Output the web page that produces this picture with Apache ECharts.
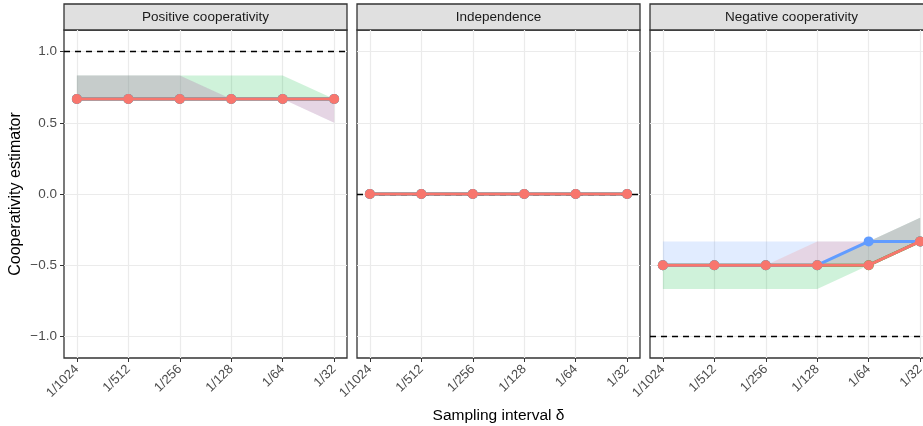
<!DOCTYPE html>
<html><head><meta charset="utf-8">
<script src="https://cdn.jsdelivr.net/npm/echarts@6/dist/echarts.min.js"></script>
<style>html,body{margin:0;padding:0;background:#fff}#c{width:923px;height:426px}</style>
</head><body><div id="c"></div>
<script>
// ---------------- data ----------------
const panels = ['Positive cooperativity', 'Independence', 'Negative cooperativity'];
const xLabels = ['1/1024', '1/512', '1/256', '1/128', '1/64', '1/32'];
const xIdx = [0, 1, 2, 3, 4, 5];
const yTicks = [-1, -0.5, 0, 0.5, 1];
const trueValues = [1, 0, -1];
const groupColors = ['#F8766D', '#00BA38', '#619CFF']; // A, B, C

// Positive cooperativity
const posA   = [0.667, 0.667, 0.667, 0.667, 0.667, 0.667];
const posALo = [0.667, 0.667, 0.667, 0.667, 0.667, 0.5];
const posAHi = [0.833, 0.833, 0.833, 0.667, 0.667, 0.667];
const posB   = [0.667, 0.667, 0.667, 0.667, 0.667, 0.667];
const posBLo = [0.667, 0.667, 0.667, 0.667, 0.667, 0.667];
const posBHi = [0.833, 0.833, 0.833, 0.833, 0.833, 0.667];
const posC   = [0.667, 0.667, 0.667, 0.667, 0.667, 0.667];
const posCLo = [0.667, 0.667, 0.667, 0.667, 0.667, 0.5];
const posCHi = [0.833, 0.833, 0.833, 0.667, 0.667, 0.667];

// Independence
const indA   = [0, 0, 0, 0, 0, 0];
const indALo = [0, 0, 0, 0, 0, 0];
const indAHi = [0, 0, 0, 0, 0, 0];
const indB   = [0, 0, 0, 0, 0, 0];
const indBLo = [0, 0, 0, 0, 0, 0];
const indBHi = [0, 0, 0, 0, 0, 0];
const indC   = [0, 0, 0, 0, 0, 0];
const indCLo = [0, 0, 0, 0, 0, 0];
const indCHi = [0, 0, 0, 0, 0, 0];

// Negative cooperativity
const negA   = [-0.5, -0.5, -0.5, -0.5, -0.5, -0.333];
const negALo = [-0.5, -0.5, -0.5, -0.5, -0.5, -0.333];
const negAHi = [-0.5, -0.5, -0.5, -0.333, -0.333, -0.167];
const negB   = [-0.5, -0.5, -0.5, -0.5, -0.5, -0.333];
const negBLo = [-0.667, -0.667, -0.667, -0.667, -0.5, -0.333];
const negBHi = [-0.5, -0.5, -0.5, -0.5, -0.333, -0.167];
const negC   = [-0.5, -0.5, -0.5, -0.5, -0.333, -0.333];
const negCLo = [-0.5, -0.5, -0.5, -0.5, -0.5, -0.333];
const negCHi = [-0.333, -0.333, -0.333, -0.333, -0.333, -0.167];

// ---------------- layout ----------------
const FONT = "'Liberation Sans', Arial, Helvetica, sans-serif";
const panelLeft = [64, 357, 650];
const panelW = 283, panelTop = 30, panelH = 328;

const panelData = [
  { A: [posA, posALo, posAHi], B: [posB, posBLo, posBHi], C: [posC, posCLo, posCHi] },
  { A: [indA, indALo, indAHi], B: [indB, indBLo, indBHi], C: [indC, indCLo, indCHi] },
  { A: [negA, negALo, negAHi], B: [negB, negBLo, negBHi], C: [negC, negCLo, negCHi] }
];

function fmtY(v) {
  if (v === 0) return '0.0';
  return (v < 0 ? '\u2212' : '') + Math.abs(v).toFixed(1);
}

const grids = [], xAxes = [], yAxes = [], series = [], graphics = [];
panels.forEach((name, gi) => {
  grids.push({ left: panelLeft[gi], top: panelTop, width: panelW, height: panelH,
    outerBoundsMode: 'none', containLabel: false,
    show: true, borderColor: '#333333', borderWidth: 1.3, backgroundColor: '#fff' });
  xAxes.push({
    type: 'value', gridIndex: gi, min: -0.25, max: 5.25,
    name: gi === 1 ? 'Sampling interval \u03B4' : '',
    nameLocation: 'middle', nameGap: 50,
    nameTextStyle: { fontFamily: FONT, fontSize: 15.5, color: '#000' },
    axisLine: { show: false, onZero: false },
    axisTick: { show: true, customValues: xIdx, length: 4, lineStyle: { color: '#333333', width: 1 } },
    axisLabel: { customValues: xIdx, formatter: v => xLabels[Math.round(v)], rotate: 45, margin: 9,
      fontFamily: FONT, fontSize: 13, color: '#4D4D4D' },
    splitLine: { show: true, lineStyle: { color: '#EBEBEB', width: 1.2 } }
  });
  yAxes.push({
    type: 'value', gridIndex: gi, min: -1.152, max: 1.152,
    name: gi === 0 ? 'Cooperativity estimator' : '',
    nameLocation: 'middle', nameGap: 40, nameRotate: 90,
    nameTextStyle: { fontFamily: FONT, fontSize: 16, color: '#000' },
    axisLine: { show: false, onZero: false },
    axisTick: { show: gi === 0, customValues: yTicks, length: 4, lineStyle: { color: '#333333', width: 1 } },
    axisLabel: { show: gi === 0, customValues: yTicks, formatter: fmtY, margin: 7,
      fontFamily: FONT, fontSize: 13.5, color: '#4D4D4D' },
    splitLine: { show: true, lineStyle: { color: '#EBEBEB', width: 1.2 } }
  });

  // strip
  graphics.push({ type: 'rect', silent: true,
    shape: { x: panelLeft[gi], y: 4, width: panelW, height: panelTop - 4 },
    style: { fill: '#E0E0E0', stroke: '#333333', lineWidth: 1.3 } });
  graphics.push({ type: 'text', silent: true, x: panelLeft[gi] + panelW / 2, y: 17.5,
    style: { text: name, textAlign: 'center', textVerticalAlign: 'middle',
      font: '13.5px ' + FONT, fill: '#1A1A1A' } });

  const order = ['B', 'C', 'A'];
  const colorOf = { A: groupColors[0], B: groupColors[1], C: groupColors[2] };
  // ribbons
  order.forEach(k => {
    const [val, lo, hi] = panelData[gi][k];
    series.push({
      type: 'custom', xAxisIndex: gi, yAxisIndex: gi, silent: true, clip: true, z: 1,
      data: xIdx.map((x, i) => [x, lo[i], hi[i]]),
      encode: { x: 0, y: [1, 2] },
      renderItem(params, api) {
        if (params.dataIndex !== 0) return null;
        const pts = [];
        for (let i = 0; i < xIdx.length; i++) pts.push(api.coord([xIdx[i], lo[i]]));
        for (let i = xIdx.length - 1; i >= 0; i--) pts.push(api.coord([xIdx[i], hi[i]]));
        return { type: 'polygon', shape: { points: pts }, style: { fill: colorOf[k], opacity: 0.19 } };
      }
    });
  });
  // lines + points
  order.forEach((k, j) => {
    const [val] = panelData[gi][k];
    const s = {
      type: 'line', name: k, xAxisIndex: gi, yAxisIndex: gi, z: 3 + j,
      data: xIdx.map((x, i) => [x, val[i]]),
      symbol: 'circle', symbolSize: 10, showSymbol: true,
      lineStyle: { color: colorOf[k], width: 3 },
      itemStyle: { color: colorOf[k] },
      clip: true, silent: true
    };
    if (j === 0) {
      s.markLine = { silent: true, symbol: ['none', 'none'], label: { show: false }, animation: false,
        lineStyle: { type: [6, 5], color: '#000', width: 1.3 },
        data: [{ yAxis: trueValues[gi] }] };
      s.z = 2;
    }
    series.push(s);
  });
});

const chart = echarts.init(document.getElementById('c'), null, { renderer: 'canvas' });
chart.setOption({
  animation: false,
  backgroundColor: '#fff',
  textStyle: { fontFamily: FONT },
  grid: grids, xAxis: xAxes, yAxis: yAxes, series: series,
  graphic: graphics
});
</script></body></html>
